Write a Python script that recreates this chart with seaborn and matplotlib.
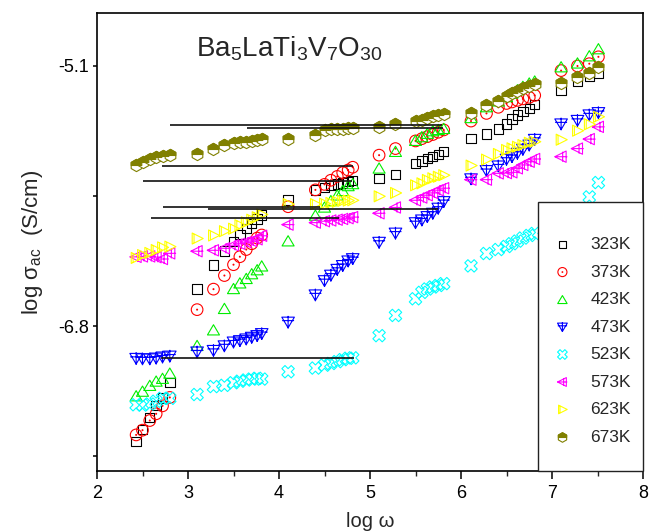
import numpy as np
import pandas as pd
import matplotlib
matplotlib.use("Agg")
import matplotlib.pyplot as plt
from matplotlib.path import Path
from matplotlib.patches import Rectangle
from matplotlib.legend_handler import HandlerTuple
import seaborn as sns

# ---- data: log(omega) grid and log(sigma_ac) for each temperature ----
log_w = [2.43, 2.50, 2.58, 2.65, 2.72, 2.80,
         3.10, 3.28, 3.40, 3.50, 3.57, 3.64, 3.70, 3.76, 3.81,
         4.10, 4.40, 4.50, 4.57, 4.64, 4.70, 4.76, 4.81,
         5.10, 5.28, 5.50, 5.57, 5.63, 5.69, 5.75, 5.81,
         6.11, 6.28, 6.41, 6.50, 6.56, 6.62, 6.68, 6.75, 6.81,
         7.10, 7.28, 7.41, 7.51]

temps = ["323K", "373K", "423K", "473K", "523K", "573K", "623K", "673K"]

sig_323 = [-7.555, -7.478, -7.400, -7.320, -7.270, -7.168,
           -6.557, -6.402, -6.309, -6.249, -6.200, -6.162, -6.130, -6.100, -6.075,
           -5.975, -5.910, -5.894, -5.882, -5.872, -5.864, -5.855, -5.847,
           -5.837, -5.811, -5.737, -5.721, -5.706, -5.693, -5.677, -5.660,
           -5.575, -5.544, -5.511, -5.479, -5.447, -5.420, -5.399, -5.377, -5.352,
           -5.256, -5.199, -5.168, -5.149]
sig_373 = [-7.512, -7.481, -7.418, -7.374, -7.322, -7.267,
           -6.693, -6.559, -6.470, -6.399, -6.347, -6.300, -6.262, -6.225, -6.205,
           -6.020, -5.910, -5.874, -5.847, -5.822, -5.797, -5.780, -5.762,
           -5.683, -5.640, -5.590, -5.575, -5.562, -5.548, -5.533, -5.518,
           -5.460, -5.410, -5.370, -5.345, -5.335, -5.325, -5.315, -5.305, -5.292,
           -5.130, -5.100, -5.085, -5.040]
sig_423 = [-7.256, -7.226, -7.188, -7.160, -7.142, -7.108,
           -6.927, -6.825, -6.685, -6.555, -6.518, -6.489, -6.458, -6.432, -6.407,
           -6.243, -6.075, -6.022, -5.980, -5.943, -5.914, -5.882, -5.869,
           -5.767, -5.658, -5.586, -5.562, -5.540, -5.523, -5.515, -5.508,
           -5.437, -5.366, -5.328, -5.300, -5.277, -5.255, -5.233, -5.211, -5.198,
           -5.105, -5.080, -5.033, -4.987]
sig_473 = [-7.012, -7.015, -7.015, -7.010, -7.003, -6.997,
           -6.970, -6.960, -6.930, -6.905, -6.896, -6.885, -6.874, -6.863, -6.850,
           -6.775, -6.597, -6.504, -6.468, -6.430, -6.405, -6.375, -6.360,
           -6.253, -6.193, -6.125, -6.107, -6.085, -6.063, -6.030, -5.987,
           -5.838, -5.784, -5.754, -5.710, -5.693, -5.671, -5.645, -5.617, -5.580,
           -5.479, -5.456, -5.420, -5.405]
sig_523 = [-7.315, -7.317, -7.310, -7.292, -7.273, -7.273,
           -7.248, -7.196, -7.188, -7.171, -7.161, -7.153, -7.147, -7.142, -7.147,
           -7.099, -7.075, -7.056, -7.045, -7.033, -7.020, -7.011, -7.008,
           -6.863, -6.731, -6.622, -6.580, -6.558, -6.545, -6.535, -6.523,
           -6.407, -6.326, -6.300, -6.280, -6.262, -6.245, -6.225, -6.208, -6.195,
           -6.100, -6.060, -5.956, -5.862]
sig_573 = [-6.348, -6.345, -6.345, -6.350, -6.362, -6.325,
           -6.311, -6.305, -6.292, -6.272, -6.262, -6.252, -6.244, -6.233, -6.210,
           -6.137, -6.124, -6.115, -6.110, -6.105, -6.100, -6.095, -6.088,
           -6.063, -6.025, -5.978, -5.960, -5.945, -5.930, -5.912, -5.899,
           -5.843, -5.843, -5.802, -5.800, -5.795, -5.769, -5.747, -5.726, -5.708,
           -5.693, -5.640, -5.578, -5.498]
sig_623 = [-6.355, -6.336, -6.322, -6.303, -6.286, -6.281,
           -6.228, -6.208, -6.180, -6.164, -6.141, -6.122, -6.105, -6.089, -6.071,
           -6.003, -6.003, -6.000, -5.995, -5.988, -5.982, -5.980, -5.978,
           -5.952, -5.930, -5.880, -5.867, -5.845, -5.834, -5.824, -5.814,
           -5.751, -5.712, -5.675, -5.649, -5.638, -5.628, -5.617, -5.602, -5.595,
           -5.582, -5.523, -5.481, -5.432]
sig_673 = [-5.745, -5.728, -5.710, -5.698, -5.690, -5.683,
           -5.675, -5.640, -5.618, -5.604, -5.599, -5.594, -5.590, -5.584, -5.578,
           -5.578, -5.550, -5.520, -5.514, -5.511, -5.509, -5.507, -5.503,
           -5.498, -5.479, -5.460, -5.450, -5.440, -5.430, -5.420, -5.412,
           -5.410, -5.358, -5.330, -5.295, -5.279, -5.263, -5.244, -5.230, -5.215,
           -5.212, -5.174, -5.143, -5.108]

# straight reference segments drawn across the plot
seg_y  = [-5.489, -5.505, -5.757, -5.852, -6.019, -6.035, -6.096, -7.012]
seg_x0 = [2.805, 3.643, 2.717, 2.502, 2.722, 3.224, 2.590, 2.706]
seg_x1 = [5.790, 5.800, 4.812, 4.801, 4.450, 5.750, 4.660, 4.823]

colors = ["#000000", "#ff0000", "#00ee00", "#0000ff",
          "#00ffff", "#ff00ff", "#ffff00", "#808000"]

# ---- custom marker paths ----
M, L, C = Path.MOVETO, Path.LINETO, Path.CLOSEPOLY

sq_path = Path([(-1, -1), (1, -1), (1, 1), (-1, 1), (-1, -1)], [M, L, L, L, C])
circ_dot = Path.make_compound_path(Path.unit_circle(), Path.circle((0, 0), 0.08))
tri_up = Path([(0, 0.85), (-1, -0.85), (1, -0.85), (0, 0.85)], [M, L, L, C])
tri_down_plus = Path([(-1, 0.8), (1, 0.8), (0, -0.9), (-1, 0.8),
                      (0, 1.0), (0, -1.0),
                      (-0.95, 0.25), (0.95, 0.25)],
                     [M, L, L, C, M, L, M, L])
tri_left_plus = Path([(-1, 0), (0.8, 0.9), (0.8, -0.9), (-1, 0),
                      (-1, 0), (1, 0),
                      (0.25, -0.8), (0.25, 0.8)],
                     [M, L, L, C, M, L, M, L])
tri_right_bar = Path([(1, 0), (-0.8, 0.9), (-0.8, -0.9), (1, 0),
                      (-0.5, -0.75), (-0.5, 0.75)],
                     [M, L, L, C, M, L])
hx = [(0, 1), (-0.866, 0.5), (-0.866, -0.5), (0, -1), (0.866, -0.5), (0.866, 0.5)]
hex_full = Path(hx + [hx[0]], [M, L, L, L, L, L, C])
hex_top = Path([(0, 1), (-0.866, 0.5), (-0.866, 0.0), (0.866, 0.0), (0.866, 0.5), (0, 1)],
               [M, L, L, L, L, C])

markers = [sq_path, circ_dot, tri_up, tri_down_plus, "X", tri_left_plus, tri_right_bar, hex_full]
sizes = [46, 70, 75, 82, 80, 82, 78, 78]

series = [sig_323, sig_373, sig_423, sig_473, sig_523, sig_573, sig_623, sig_673]
df = pd.DataFrame({
    "log_w": np.tile(log_w, len(temps)),
    "log_sigma": np.concatenate(series),
    "T": np.repeat(temps, len(log_w)),
})

# ---- style ----
sns.set_style("ticks")
plt.rcParams["font.family"] = ["Liberation Sans", "DejaVu Sans"]
plt.rcParams["mathtext.fontset"] = "custom"
plt.rcParams["mathtext.rm"] = "Liberation Sans"
plt.rcParams["mathtext.it"] = "Liberation Sans:italic"
plt.rcParams["axes.linewidth"] = 1.2

fig = plt.figure(figsize=(6.6, 5.32), dpi=100)
ax = fig.add_axes([97 / 660, 1 - 471 / 532, 546 / 660, 458 / 532])

series_handles = {}
for i, t in enumerate(temps):
    sub = df[df["T"] == t]
    fc = "white" if t == "673K" else "none"
    sns.scatterplot(data=sub, x="log_w", y="log_sigma", ax=ax,
                    marker=markers[i], s=sizes[i], color=colors[i],
                    facecolor=fc, edgecolor=colors[i], linewidth=0.8,
                    zorder=2 + i * 0.01)
    series_handles[t] = ax.collections[-1]

# filled upper half of the 673K hexagons
sub = df[df["T"] == "673K"]
sns.scatterplot(data=sub, x="log_w", y="log_sigma", ax=ax,
                marker=hex_top, s=sizes[-1], color=colors[-1],
                facecolor=colors[-1], edgecolor=colors[-1], linewidth=0.8,
                zorder=2.1)
hex_top_handle = ax.collections[-1]

ax.hlines(seg_y, seg_x0, seg_x1, colors="#111111", linewidth=1.2, zorder=3)

ax.set_xlim(2, 8)
ax.set_ylim(-7.748, -4.7535)
ax.set_xticks(range(2, 9))
ax.set_xticks(np.arange(2.5, 8, 1.0), minor=True)
ax.set_yticks([-5.1, -5.95, -6.8, -7.65])
ax.set_yticklabels(["-5.1", "", "-6.8", ""])
ax.tick_params(axis="x", which="major", direction="out", length=6, width=1.1,
               labelsize=13, pad=4, colors="black")
ax.tick_params(axis="x", which="minor", direction="out", length=3.5, width=1.0)
ax.tick_params(axis="y", which="major", direction="out", length=3, width=1.1,
               labelsize=13, pad=3, colors="black")
for sp in ax.spines.values():
    sp.set_visible(True)
    sp.set_color("black")
    sp.set_linewidth(1.2)

ax.set_xlabel("log ω", fontsize=14.5, labelpad=7)
ax.set_ylabel("log σ$_{\\mathregular{ac}}$  (S/cm)", fontsize=16, labelpad=9)

ax.text(3.09, -5.041,
        "Ba$_{\\mathregular{5}}$LaTi$_{\\mathregular{3}}$V$_{\\mathregular{7}}$O$_{\\mathregular{30}}$",
        fontsize=20, va="baseline", ha="left")

# legend box
x0 = (538 - 97) / 546
y1 = (471 - 202) / 458
ax.add_patch(Rectangle((x0, 0), 1 - x0, y1, transform=ax.transAxes,
                       facecolor="white", edgecolor="#222222", linewidth=1.0,
                       zorder=5, clip_on=False))

leg_handles = [series_handles[t] for t in temps[:-1]] + [(series_handles["673K"], hex_top_handle)]
leg = ax.legend(leg_handles, temps, loc="upper left",
                bbox_to_anchor=((552 - 97) / 546, (471 - 237) / 458),
                frameon=False, borderpad=0, borderaxespad=0,
                fontsize=12.5, handlelength=1.2, handletextpad=1.0,
                labelspacing=0.71, markerscale=0.78,
                handler_map={tuple: HandlerTuple(ndivide=1, pad=0)})
leg.set_zorder(6)

fig.savefig("out.png", dpi=100)
